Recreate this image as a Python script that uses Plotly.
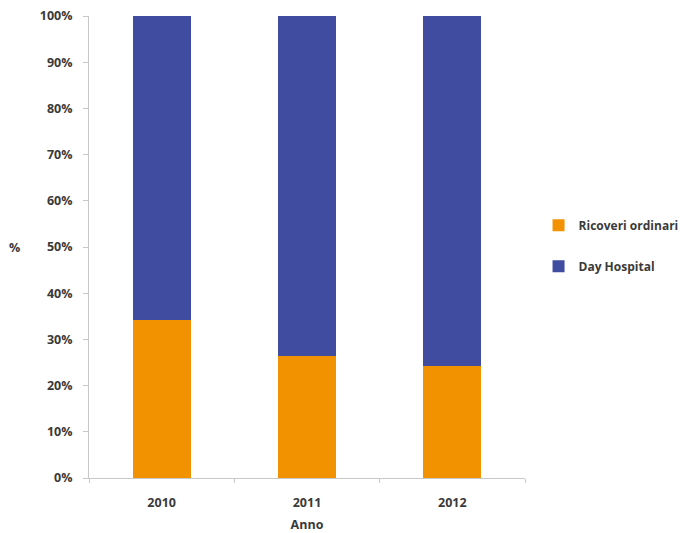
import plotly.graph_objects as go

years = ["2010", "2011", "2012"]
ricoveri_ordinari = [34.2, 26.5, 24.3]
day_hospital = [100 - v for v in ricoveri_ordinari]
y_ticks = [0, 10, 20, 30, 40, 50, 60, 70, 80, 90, 100]
y_tick_text = [f"{v}%" for v in y_ticks]

ORANGE = "#F39200"
BLUE = "#3F4C9F"
TEXT = "#3a3a3a"
AXIS = "#c8c8c8"
FONT = "'Open Sans', sans-serif"


def bold(size):
    return dict(family=FONT, size=size, color=TEXT, weight="bold")


fig = go.Figure()
fig.add_trace(go.Bar(name="Ricoveri ordinari", x=years, y=ricoveri_ordinari,
                     marker=dict(color=ORANGE, line=dict(width=0)),
                     legendgroup="a"))
fig.add_trace(go.Bar(name="Day Hospital", x=years, y=day_hospital,
                     marker=dict(color=BLUE, line=dict(width=0)),
                     legendgroup="b"))

fig.update_layout(
    width=694, height=533,
    margin=dict(l=89, r=169, t=16, b=55, autoexpand=False),
    barmode="stack", bargap=0.6,
    plot_bgcolor="white", paper_bgcolor="white",
    font=bold(12),
    legend=dict(xref="container", yref="container",
                x=0.776, y=0.539, xanchor="left", yanchor="middle",
                traceorder="grouped", tracegroupgap=22,
                font=bold(12), itemwidth=30),
    showlegend=True,
)
fig.update_xaxes(
    showline=True, linecolor=AXIS, linewidth=1,
    ticks="outside", tickson="boundaries", ticklen=4, tickcolor=AXIS,
    ticklabelstandoff=13,
    tickfont=bold(12.5),
    title=dict(text="Anno", font=bold(12.5), standoff=10),
)
fig.update_yaxes(
    range=[0, 100], tickvals=y_ticks, ticktext=y_tick_text,
    showgrid=False, zeroline=False,
    showline=True, linecolor=AXIS, linewidth=1,
    ticks="outside", ticklen=5, tickcolor=AXIS, ticklabelstandoff=8,
    tickfont=bold(12.5),
)
fig.add_annotation(text="%", xref="paper", yref="paper", x=-0.17, y=0.5,
                   showarrow=False, xanchor="center", yanchor="middle",
                   font=bold(12.5))

fig.write_html("out.html")
